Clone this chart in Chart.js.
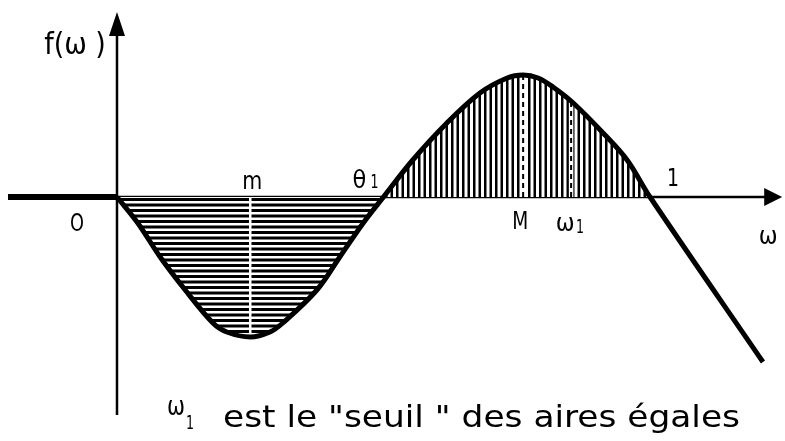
<!DOCTYPE html>
<html>
<head>
<meta charset="utf-8">
<script src="https://cdn.jsdelivr.net/npm/chart.js@4/dist/chart.umd.min.js"></script>
<style>
  html, body { margin: 0; padding: 0; background: #fff; }
  #wrap { width: 785px; height: 441px; position: relative; }
</style>
</head>
<body>
<div id="wrap"><canvas id="chart"></canvas></div>
<script>
// curve f(omega) (O = 0, "1" = 1)
const omega = [0, 0.039, 0.081, 0.128, 0.180, 0.206, 0.250, 0.287, 0.311, 0.375, 0.418, 0.462, 0.5,
               0.555, 0.619, 0.681, 0.732, 0.762, 0.790, 0.818, 0.856, 0.912, 0.957, 1.0, 1.212];
const fValues = [0, -0.26, -0.60, -0.93, -1.26, -1.35, -1.40, -1.35, -1.26, -0.93, -0.60, -0.26, 0,
                 0.37, 0.74, 1.04, 1.19, 1.22, 1.19, 1.10, 0.94, 0.64, 0.37, 0, -1.65];

// f = 0 for omega < 0
const flatOmega = [-0.2045, 0];
const flatF = [0, 0];

// dashed markers
const markerNames = ['m', 'M', 'ω1'];
const markerOmega = [0.25, 0.762, 0.852];
const markerF = [-1.40, 1.22, 0.95];

const theta1 = 0.5;
const axisEnd = 1.248;
const yTop = 1.85;
const yBottom = -2.18;

const pts = (xs, ys) => xs.map((x, i) => ({ x, y: ys[i] }));
const curve = pts(omega, fValues);
const negLobe = curve.filter(p => p.x >= 0 && p.x <= theta1);
const posLobe = curve.filter(p => p.x >= theta1 && p.x <= 1);

function hatch(horizontal) {
  const c = document.createElement('canvas');
  c.width = horizontal ? 4 : 11;
  c.height = horizontal ? 11 : 4;
  const g = c.getContext('2d');
  g.fillStyle = '#fff';
  g.fillRect(0, 0, c.width, c.height);
  g.fillStyle = '#000';
  if (horizontal) {
    g.fillRect(0, 0, 4, 3);
    g.fillRect(0, 5.5, 4, 3);
  } else {
    g.fillRect(0, 0, 2.5, 4);
    g.fillRect(5.5, 0, 2.5, 4);
  }
  return g.createPattern(c, 'repeat');
}

const ink = '#000';
const labelFont = '"DejaVu Sans Condensed", "DejaVu Sans", sans-serif';

const axesPlugin = {
  id: 'axes',
  beforeDatasetsDraw(chart) {
    const { ctx, scales: { x, y } } = chart;
    const x0 = x.getPixelForValue(0), y0 = y.getPixelForValue(0);
    const xe = x.getPixelForValue(axisEnd);
    const yt = y.getPixelForValue(yTop), yb = y.getPixelForValue(yBottom);
    ctx.save();
    ctx.strokeStyle = ink;
    ctx.fillStyle = ink;
    ctx.lineWidth = 2.5;
    ctx.beginPath();
    ctx.moveTo(x.getPixelForValue(flatOmega[0]), y0);
    ctx.lineTo(xe - 10, y0);
    ctx.moveTo(x0, yb);
    ctx.lineTo(x0, yt + 12);
    ctx.stroke();
    // arrow heads
    ctx.beginPath();
    ctx.moveTo(xe, y0);
    ctx.lineTo(xe - 18, y0 - 9);
    ctx.lineTo(xe - 18, y0 + 9);
    ctx.closePath();
    ctx.fill();
    ctx.beginPath();
    ctx.moveTo(x0, yt);
    ctx.lineTo(x0 - 8, yt + 24);
    ctx.lineTo(x0 + 8, yt + 24);
    ctx.closePath();
    ctx.fill();
    ctx.restore();
  }
};

// draws text squeezed to a given width, centred on (cx, cy)
function squeezed(ctx, text, cx, cy, width) {
  const w = ctx.measureText(text).width;
  ctx.save();
  ctx.translate(cx, cy);
  ctx.scale(Math.min(1, width / w), 1);
  ctx.fillText(text, 0, 0);
  ctx.restore();
}

const labelsPlugin = {
  id: 'labels',
  afterDatasetsDraw(chart) {
    const { ctx, scales: { x, y } } = chart;
    const X = v => x.getPixelForValue(v), Y = v => y.getPixelForValue(v);
    const y0 = Y(0);
    ctx.save();
    ctx.fillStyle = ink;
    ctx.textAlign = 'center';
    ctx.textBaseline = 'middle';
    ctx.font = '30px ' + labelFont;
    squeezed(ctx, 'f(ω )', 75, 46, 76);
    ctx.font = '25px ' + labelFont;
    squeezed(ctx, 'O', 77, y0 + 27, 14);
    squeezed(ctx, 'm', X(markerOmega[0]) + 2, y0 - 15, 20);
    squeezed(ctx, 'θ', X(theta1) - 24, y0 - 16, 14);
    ctx.font = '20px ' + labelFont;
    squeezed(ctx, '1', X(theta1) - 9, y0 - 14, 8);
    ctx.font = '25px ' + labelFont;
    squeezed(ctx, 'M', X(markerOmega[1]) - 3, y0 + 25, 16);
    squeezed(ctx, 'ω', X(markerOmega[2]) - 6, y0 + 27, 20);
    ctx.font = '20px ' + labelFont;
    squeezed(ctx, '1', X(markerOmega[2]) + 9, y0 + 31, 8);
    ctx.font = '25px ' + labelFont;
    squeezed(ctx, '1', X(1) + 23, y0 - 18, 12);
    squeezed(ctx, 'ω', X(axisEnd) - 14, y0 + 40, 20);

    // caption
    ctx.font = '26px ' + labelFont;
    squeezed(ctx, 'ω', 176, 408, 18);
    ctx.font = '20px ' + labelFont;
    squeezed(ctx, '1', 190, 424, 8);
    ctx.font = '31px ' + labelFont;
    ctx.textAlign = 'left';
    ctx.textBaseline = 'alphabetic';
    const cap = 'est le "seuil " des aires égales';
    const w = ctx.measureText(cap).width;
    ctx.translate(223, 427);
    ctx.scale(517 / w, 1);
    ctx.fillText(cap, 0, 0);
    ctx.restore();
  }
};

const markerSets = [];
markerOmega.forEach((m, i) => {
  const data = [{ x: m, y: 0 }, { x: m, y: markerF[i] }];
  markerSets.push({
    label: markerNames[i] + ' gap', data, order: 2,
    borderColor: '#fff', borderWidth: i === 0 ? 2.5 : 4.5, pointRadius: 0, fill: false
  });
  if (i > 0) {
    markerSets.push({
      label: markerNames[i], data, order: 1,
      borderColor: ink, borderWidth: 2, borderDash: [5, 4], pointRadius: 0, fill: false
    });
  }
});

const smooth = 0.35;

new Chart(document.getElementById('chart'), {
  type: 'line',
  data: {
    datasets: [
      { label: 'f', data: curve, order: 0, borderColor: ink, borderWidth: 5,
        tension: smooth, pointRadius: 0, fill: false },
      { label: 'f<0', data: pts(flatOmega, flatF), order: 0, borderColor: ink, borderWidth: 6,
        pointRadius: 0, fill: false },
      ...markerSets,
      { label: 'aire -', data: negLobe, order: 3, borderWidth: 0, borderColor: 'transparent',
        tension: smooth, pointRadius: 0, fill: 'origin', backgroundColor: hatch(true) },
      { label: 'aire +', data: posLobe, order: 3, borderWidth: 0, borderColor: 'transparent',
        tension: smooth, pointRadius: 0, fill: 'origin', backgroundColor: hatch(false) }
    ]
  },
  options: {
    responsive: true,
    maintainAspectRatio: false,
    animation: false,
    layout: { padding: 0 },
    plugins: { legend: { display: false }, tooltip: { enabled: false } },
    scales: {
      x: { type: 'linear', display: false, min: -0.2195, max: 1.2533 },
      y: { type: 'linear', display: false, min: -2.44, max: 1.97 }
    }
  },
  plugins: [axesPlugin, labelsPlugin]
});
</script>
</body>
</html>
